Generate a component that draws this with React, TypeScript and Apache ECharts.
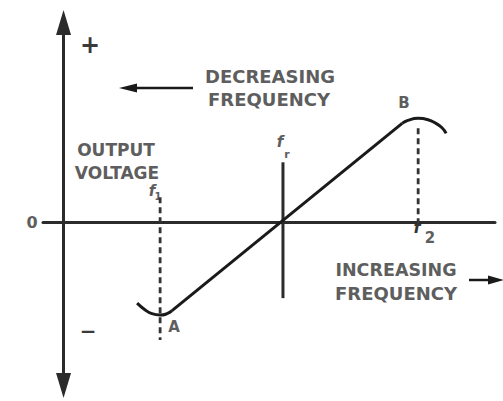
import React, { useEffect, useRef } from "react";
import * as echarts from "echarts";

// Frequency axis (arbitrary units) and output voltage (arbitrary units)
const xRange = [-5, 105];
const yRange = [-81.75, 100];

// Discriminator S-curve pieces: [frequency, voltage]
const leftHook = [
  [17.9, -40.5], [19.8, -43.8], [21.5, -45.8], [23.5, -46.5], [25.2, -45.8], [26.4, -44.3],
];
const linearRegion = [
  [26.4, -44.3], [82.4, 49.5],
];
const rightHump = [
  [82.4, 49.5], [83.8, 51], [86.3, 52], [88.7, 51.3], [90.6, 49.5], [92.1, 47.3], [93.1, 44.5],
];

// Reference frequencies
const fOne = 23.5;
const fRes = 53.4;
const fTwo = 86.3;
const fOneMarker = [[fOne, 12.5], [fOne, -59]];
const fResMarker = [[fRes, 30], [fRes, -38]];
const fTwoMarker = [[fTwo, 47], [fTwo, -1]];

const TEXT = "#5e5e5e";
const INK = "#1a1a1a";
const FONT = "DejaVu Sans";

export default function App() {
  const ref = useRef<HTMLDivElement>(null);
  useEffect(() => {
    if (!ref.current) return;
    const chart = echarts.init(ref.current, null, { renderer: "svg" });
    const txt = (x: number, y: number, text: string, size: number, extra: any = {}) => ({
      type: "text",
      x,
      y,
      style: {
        text,
        fill: TEXT,
        font: `bold ${size}px "${FONT}"`,
        textAlign: "center",
        textVerticalAlign: "middle",
        ...extra,
      },
    });
    const curveStyle = { color: INK, width: 3 };
    const dashed = { color: "#333", width: 2.8, type: [6, 4] as any };
    chart.setOption({
      animation: false,
      backgroundColor: "#fff",
      grid: { left: 43, right: 8, top: 22.5, bottom: 15.5 },
      xAxis: {
        type: "value",
        min: xRange[0],
        max: xRange[1],
        axisLine: { onZero: true, lineStyle: { color: "#2b2b2b", width: 3 } },
        axisTick: { show: false },
        axisLabel: { show: false },
        splitLine: { show: false },
      },
      yAxis: {
        type: "value",
        min: yRange[0],
        max: yRange[1],
        axisLine: {
          onZero: true,
          symbol: ["triangle", "triangle"],
          symbolSize: [15, 25],
          lineStyle: { color: "#2b2b2b", width: 3 },
        },
        axisTick: { show: false },
        axisLabel: { show: false },
        splitLine: { show: false },
      },
      series: [
        { type: "line", data: fOneMarker, symbol: "none", lineStyle: dashed },
        { type: "line", data: fTwoMarker, symbol: "none", lineStyle: dashed },
        { type: "line", data: fResMarker, symbol: "none", lineStyle: { color: "#2b2b2b", width: 3 } },
        { type: "line", data: leftHook, symbol: "none", smooth: 0.5, lineStyle: curveStyle },
        { type: "line", data: linearRegion, symbol: "none", lineStyle: curveStyle },
        { type: "line", data: rightHump, symbol: "none", smooth: 0.5, lineStyle: curveStyle },
      ],
      graphic: [
        txt(90, 45, "+", 24, { fill: "#3a3a3a" }),
        txt(88, 331, "−", 20, { fill: "#3a3a3a" }),
        txt(32, 222, "0", 16),
        txt(270, 76, "DECREASING", 18),
        txt(269, 99, "FREQUENCY", 18),
        txt(116, 150, "OUTPUT", 17),
        txt(117, 173, "VOLTAGE", 17),
        txt(396, 270, "INCREASING", 17.5),
        txt(396, 293, "FREQUENCY", 18),
        txt(404, 103, "B", 15),
        txt(174, 327, "A", 15),
        txt(152, 191, "f", 15, { font: `italic bold 15px "${FONT}"` }),
        txt(158, 196, "1", 10),
        txt(280, 142, "f", 15, { font: `italic bold 15px "${FONT}"` }),
        txt(287, 154, "r", 11),
        txt(417, 227, "f", 16, { font: `italic bold 16px "${FONT}"`, fill: "#333" }),
        txt(430, 238, "2", 15),
        // arrow: decreasing frequency
        { type: "line", shape: { x1: 135, y1: 88, x2: 193, y2: 88 }, style: { stroke: INK, lineWidth: 2.5 } },
        { type: "polygon", shape: { points: [[119, 88], [137, 83.5], [137, 92.5]] }, style: { fill: INK } },
        // arrow: increasing frequency
        { type: "line", shape: { x1: 469, y1: 280, x2: 490, y2: 280 }, style: { stroke: INK, lineWidth: 2.5 } },
        { type: "polygon", shape: { points: [[504, 280], [488, 275.5], [488, 284.5]] }, style: { fill: INK } },
      ],
    });
    return () => chart.dispose();
  }, []);
  return (
    <div
      ref={ref}
      style={{ position: "absolute", left: 0, top: 0, width: 503, height: 401 }}
    />
  );
}
